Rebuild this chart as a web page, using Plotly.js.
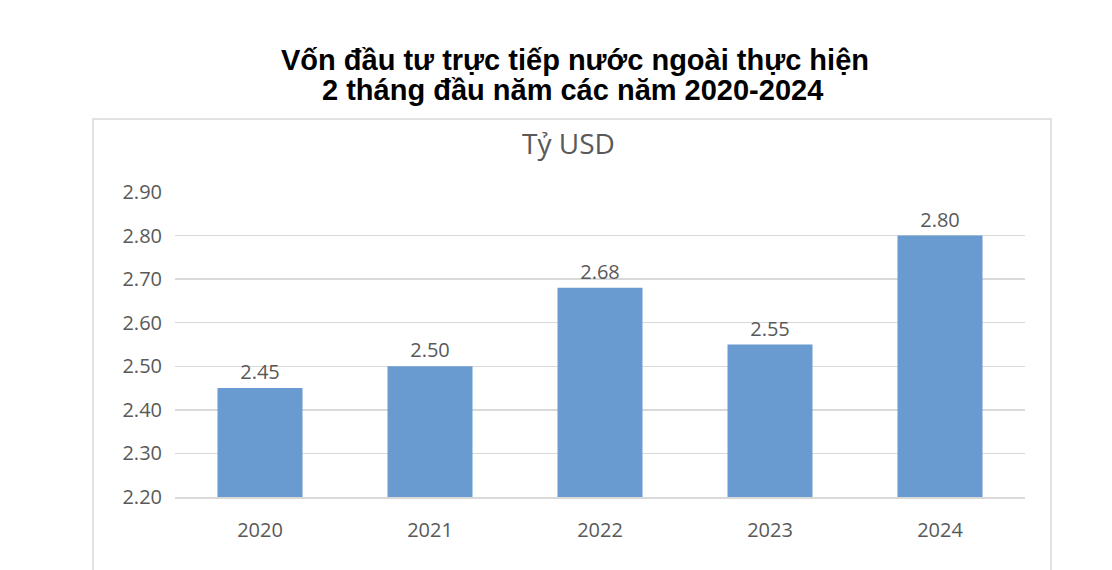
<!DOCTYPE html>
<html>
<head>
<meta charset="utf-8">
<script src="https://cdn.plot.ly/plotly-3.0.1.min.js"></script>
<style>
  html, body { margin: 0; padding: 0; background: #fff; }
  #chart { width: 1112px; height: 570px; }
</style>
</head>
<body>
<div id="chart"></div>
<script>
// Năm và vốn FDI thực hiện (tỷ USD)
const years = ['2020', '2021', '2022', '2023', '2024'];
const values = [2.45, 2.50, 2.68, 2.55, 2.80];
const yTicks = [2.2, 2.3, 2.4, 2.5, 2.6, 2.7, 2.8, 2.9];

const titleLine1 = 'Vốn đầu tư trực tiếp nước ngoài thực hiện';
const titleLine2 = '2 tháng đầu năm các năm 2020-2024';
const unitLabel = 'Tỷ USD';

const grey = '#595959';
const gridGrey = '#D9D9D9';

const trace = {
  type: 'bar',
  x: years,
  y: values,
  base: 0,
  width: 0.5,
  marker: { color: '#6A9BD0', line: { width: 0 } },
  text: values.map(v => v.toFixed(2)),
  textposition: 'outside',
  textfont: { family: 'Open Sans, sans-serif', size: 20, color: grey },
  cliponaxis: false,
  hoverinfo: 'none'
};

// pixel -> paper (plot area: y 192..497, x 175..1025)
const py = Y => (497 - Y) / 305;
const px = X => (X - 175) / 850;

const layout = {
  width: 1112,
  height: 570,
  margin: { l: 175, r: 87, t: 192, b: 73 },
  paper_bgcolor: '#fff',
  plot_bgcolor: '#fff',
  showlegend: false,
  font: { family: 'Open Sans, sans-serif', color: grey },
  xaxis: {
    type: 'category',
    showgrid: false,
    zeroline: false,
    showline: true,
    linecolor: gridGrey,
    linewidth: 1.5,
    ticks: '',
    ticklabelstandoff: 14,
    tickfont: { size: 20, color: grey }
  },
  yaxis: {
    range: [2.2, 2.9],
    tickvals: yTicks,
    ticktext: yTicks.map(v => v.toFixed(2)),
    showgrid: true,
    gridcolor: gridGrey,
    gridwidth: 1.5,
    zeroline: false,
    showline: false,
    ticks: '',
    ticklabelstandoff: 12,
    tickfont: { size: 20, color: grey }
  },
  shapes: [
    {
      type: 'rect', xref: 'paper', yref: 'paper',
      x0: px(93), x1: px(1051), y0: py(580), y1: py(119),
      line: { color: gridGrey, width: 1.5 },
      fillcolor: 'rgba(0,0,0,0)',
      layer: 'below'
    }
  ],
  annotations: [
    {
      xref: 'paper', yref: 'paper', x: px(575), y: py(60),
      xanchor: 'center', yanchor: 'middle', showarrow: false,
      text: '<b>' + titleLine1 + '</b>',
      font: { family: 'Liberation Sans, Arial, sans-serif', size: 29, color: '#000' }
    },
    {
      xref: 'paper', yref: 'paper', x: px(572), y: py(90),
      xanchor: 'center', yanchor: 'middle', showarrow: false,
      text: '<b>' + titleLine2 + '</b>',
      font: { family: 'Liberation Sans, Arial, sans-serif', size: 29, color: '#000' }
    },
    {
      xref: 'paper', yref: 'paper', x: px(568), y: py(143),
      xanchor: 'center', yanchor: 'middle', showarrow: false,
      text: unitLabel,
      font: { family: 'Open Sans, sans-serif', size: 28, color: grey }
    }
  ]
};

Plotly.newPlot('chart', [trace], layout, { staticPlot: true, displayModeBar: false });
</script>
</body>
</html>
